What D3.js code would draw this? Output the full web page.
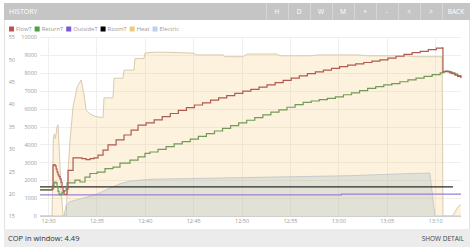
<!DOCTYPE html>
<html>
<head>
<meta charset="utf-8">
<script src="https://cdn.jsdelivr.net/npm/d3@7"></script>
<style>
  body { margin: 0; background: #fff; }
  svg { display: block; font-family: "Open Sans", "DejaVu Sans", sans-serif; }
</style>
</head>
<body>
<svg id="chart" width="474" height="249"></svg>
<script>
// History panel: flow/return/outside/room temps + heat/electric power

const buttons = ["H", "D", "W", "M", "+", "-", "<", ">", "BACK"];
const legendNames = ["FlowT", "ReturnT", "OutsideT", "RoomT", "Heat", "Electric"];
const legendColors = ["#c0504d", "#4fa043", "#7e57d6", "#000000", "#eccb7a", "#b9d3ee"];
const tempTicks = [15, 20, 25, 30, 35, 40, 45, 50, 55];
const powerTicks = [0, 1000, 2000, 3000, 4000, 5000, 6000, 7000, 8000, 9000, 10000];
const copInWindow = 4.49;

// [time, °C]
const flowT = [
  ["12:29:10", 20.9], ["12:30:25", 21.0], ["12:30:31", 26.4], ["12:30:37", 26.5], ["12:30:43", 26.2],
  ["12:30:50", 25.5], ["12:30:56", 24.8], ["12:31:02", 24.2], ["12:31:08", 23.8], ["12:31:14", 23.3],
  ["12:31:21", 22.5], ["12:31:27", 21.5], ["12:31:33", 20.6], ["12:31:39", 19.8], ["12:31:52", 19.9],
  ["12:31:58", 21.0], ["12:32:04", 25.2], ["12:32:35", 28.0], ["12:33:30", 27.8], ["12:33:56", 27.6],
  ["12:34:20", 27.8], ["12:34:45", 28.0], ["12:35:10", 28.6], ["12:35:41", 29.7], ["12:36:12", 30.9],
  ["12:37:02", 32.0], ["12:37:51", 33.1], ["12:38:35", 34.2], ["12:39:18", 35.3],
  ["12:40:08", 35.8], ["12:40:58", 36.5], ["12:41:48", 37.2], ["12:42:38", 37.9], ["12:43:28", 38.6],
  ["12:44:18", 39.2], ["12:45:08", 39.8], ["12:45:58", 40.3], ["12:46:48", 40.9], ["12:47:38", 41.4],
  ["12:48:28", 41.9], ["12:49:18", 42.4], ["12:50:08", 42.9], ["12:50:58", 43.3], ["12:51:48", 43.8],
  ["12:52:38", 44.3], ["12:53:28", 44.8], ["12:54:18", 45.3], ["12:55:08", 45.8], ["12:55:58", 46.3],
  ["12:56:48", 46.8], ["12:57:38", 47.2], ["12:58:28", 47.6], ["12:59:18", 48.0], ["13:00:08", 48.4],
  ["13:00:58", 48.7], ["13:01:48", 49.0], ["13:02:38", 49.3], ["13:03:28", 49.6], ["13:04:18", 49.9],
  ["13:05:08", 50.3], ["13:05:58", 50.7], ["13:06:48", 51.1], ["13:07:38", 51.5], ["13:08:28", 51.8],
  ["13:09:18", 52.2], ["13:10:08", 52.5], ["13:10:44", 52.6], ["13:10:49", 47.2], ["13:10:58", 47.3],
  ["13:11:07", 47.3], ["13:11:20", 47.2], ["13:11:32", 47.0], ["13:11:45", 46.8], ["13:12:03", 46.5],
  ["13:12:20", 46.2], ["13:12:40", 45.8]
];

const returnT = [
  ["12:29:10", 20.8], ["12:30:25", 21.0], ["12:30:31", 21.8], ["12:30:37", 22.4], ["12:30:43", 22.6],
  ["12:30:50", 22.4], ["12:30:56", 21.5], ["12:31:02", 20.5], ["12:31:08", 19.9], ["12:31:14", 19.7],
  ["12:31:21", 19.9], ["12:31:27", 20.2], ["12:31:33", 20.4], ["12:31:39", 20.6], ["12:31:52", 21.2],
  ["12:31:58", 22.4], ["12:32:47", 23.0], ["12:33:18", 22.6], ["12:33:49", 23.7], ["12:34:20", 24.5],
  ["12:35:04", 24.8], ["12:35:53", 25.6], ["12:36:43", 25.9], ["12:37:26", 26.8], ["12:38:28", 27.5],
  ["12:39:18", 28.2], ["12:40:01", 29.0],
  ["12:40:32", 29.3], ["12:41:22", 29.9], ["12:42:12", 30.5], ["12:43:02", 31.1], ["12:43:52", 31.6],
  ["12:44:42", 32.2], ["12:45:32", 32.8], ["12:46:22", 33.4], ["12:47:12", 34.0], ["12:48:02", 34.6],
  ["12:48:52", 35.2], ["12:49:42", 35.8], ["12:50:32", 36.4], ["12:51:22", 37.0], ["12:52:12", 37.6],
  ["12:53:02", 38.2], ["12:53:52", 38.7], ["12:54:42", 39.3], ["12:55:32", 39.9], ["12:56:22", 40.4],
  ["12:57:12", 40.7], ["12:58:02", 41.0], ["12:58:52", 41.3], ["12:59:42", 41.6], ["13:00:32", 42.1],
  ["13:01:22", 42.5], ["13:02:12", 43.0], ["13:03:02", 43.5], ["13:03:52", 43.9], ["13:04:42", 44.3],
  ["13:05:32", 44.6], ["13:06:22", 45.0], ["13:07:12", 45.4], ["13:08:02", 45.8], ["13:08:52", 46.2],
  ["13:09:42", 46.6], ["13:10:32", 47.0], ["13:10:49", 47.2], ["13:11:07", 47.4], ["13:11:20", 47.3],
  ["13:11:32", 47.2], ["13:11:45", 47.0], ["13:12:03", 46.7], ["13:12:20", 46.4], ["13:12:40", 46.0]
];

const outsideT = [["12:29:10", 19.7], ["13:00:10", 19.7], ["13:00:20", 19.9], ["13:12:41", 19.9]];
const roomT = [["12:29:10", 21.5], ["13:11:51", 21.5]];

// [time, W]
const heatW = [
  ["12:29:10", 0], ["12:30:25", 0], ["12:30:33", 4400], ["12:30:40", 4600], ["12:30:46", 4300],
  ["12:30:56", 5000], ["12:31:02", 5100], ["12:31:10", 3600], ["12:31:21", 1500], ["12:31:33", 0],
  ["12:31:52", 0], ["12:32:04", 2500], ["12:32:16", 4200], ["12:32:35", 6100], ["12:33:00", 7200],
  ["12:33:25", 7600], ["12:33:43", 6800], ["12:33:56", 5900], ["12:34:20", 5700], ["12:34:58", 5550],
  ["12:35:41", 5500], ["12:35:47", 6600], ["12:36:43", 6600], ["12:36:49", 7700], ["12:37:45", 7700],
  ["12:37:51", 8150], ["12:38:53", 8150], ["12:38:59", 8800], ["12:39:55", 8800], ["12:40:01", 9100],
  ["12:41:03", 9150], ["12:41:53", 9150], ["12:44:59", 9100], ["12:45:23", 9000], ["12:48:05", 9000],
  ["12:48:17", 8900], ["12:50:09", 8900], ["12:50:34", 9050], ["12:53:40", 9050], ["12:53:58", 8950],
  ["12:57:00", 8950], ["12:58:00", 9000], ["13:02:00", 9000], ["13:03:00", 8950], ["13:07:00", 8950],
  ["13:08:00", 8900], ["13:10:44", 8900], ["13:10:49", 0], ["13:11:50", 0], ["13:12:21", 500],
  ["13:12:41", 650]
];

const elecW = [
  ["12:29:10", 0], ["12:31:39", 0], ["12:31:52", 600], ["12:32:16", 800], ["12:33:18", 950],
  ["12:34:20", 1100], ["12:35:22", 1300], ["12:36:24", 1550], ["12:37:26", 1800], ["12:38:28", 1950],
  ["12:40:32", 2050], ["12:45:42", 2100], ["12:50:52", 2150], ["12:56:02", 2200], ["13:01:12", 2250],
  ["13:06:22", 2350], ["13:09:28", 2400], ["13:09:59", 0], ["13:12:41", 0]
];

const svg = d3.select("#chart");
const parse = d3.timeParse("%H:%M:%S");
const conv = (arr) => arr.map(([t, v]) => ({ t: parse(t), v }));

const plot = { left: 40, right: 461, top: 37, bottom: 216 };

const x = d3.scaleTime()
  .domain([parse("12:29:10"), parse("13:12:41")])
  .range([plot.left, plot.right]);
const yT = d3.scaleLinear().domain([15, 55]).range([plot.bottom, plot.top]);
const yP = d3.scaleLinear().domain([0, 10000]).range([plot.bottom, plot.top]);

// ----- panel frame -----
svg.append("rect")
  .attr("x", 4.5).attr("y", 3.5).attr("width", 465).attr("height", 243)
  .attr("fill", "#fff").attr("stroke", "#e2e2e2");

// header bar
svg.append("rect")
  .attr("x", 4).attr("y", 3).attr("width", 466).attr("height", 17)
  .attr("fill", "#c5c5c5");
svg.append("text")
  .attr("x", 9).attr("y", 14).attr("fill", "#fff")
  .attr("font-size", 7).text("HISTORY");

const btnW = buttons.map((b) => (b === "BACK" ? 28 : 22));
let bx = 470 - d3.sum(btnW);
buttons.forEach((b, i) => {
  svg.append("line")
    .attr("x1", bx + 0.5).attr("x2", bx + 0.5).attr("y1", 3).attr("y2", 20)
    .attr("stroke", "#d6d6d6");
  svg.append("text")
    .attr("x", bx + btnW[i] / 2).attr("y", 14)
    .attr("text-anchor", "middle").attr("fill", "#fff")
    .attr("font-size", 6.5).text(b);
  bx += btnW[i];
});

// footer bar
svg.append("rect")
  .attr("x", 4).attr("y", 229).attr("width", 466).attr("height", 18)
  .attr("fill", "#ececec");
svg.append("text")
  .attr("x", 8).attr("y", 240.5).attr("fill", "#333")
  .attr("font-size", 7.5).text(`COP in window: ${copInWindow}`);
svg.append("text")
  .attr("x", 464).attr("y", 240.5).attr("text-anchor", "end").attr("fill", "#444")
  .attr("font-size", 6.5).text("SHOW DETAIL");

// ----- legend -----
const legend = svg.append("g").attr("transform", "translate(9,29)");
let lx = 0;
legendNames.forEach((name, i) => {
  legend.append("rect")
    .attr("x", lx).attr("y", -2.5).attr("width", 5).attr("height", 5)
    .attr("fill", legendColors[i]);
  const t = legend.append("text")
    .attr("x", lx + 7).attr("y", 2.2).attr("fill", "#999")
    .attr("font-size", 5.8).text(name);
  lx += 7 + t.node().getComputedTextLength() + 3;
});

// ----- grid -----
const grid = svg.append("g");
grid.selectAll(".hgrid").data(powerTicks).join("line")
  .attr("x1", plot.left).attr("x2", plot.right)
  .attr("y1", (d) => Math.round(yP(d)) + 0.5).attr("y2", (d) => Math.round(yP(d)) + 0.5)
  .attr("stroke", "#efefef");
const timeTicks = x.ticks(d3.timeMinute.every(5));
grid.selectAll(".vgrid").data(timeTicks).join("line")
  .attr("x1", (d) => Math.round(x(d)) + 0.5).attr("x2", (d) => Math.round(x(d)) + 0.5)
  .attr("y1", plot.top).attr("y2", plot.bottom)
  .attr("stroke", "#efefef");

// ----- areas -----
const areaP = d3.area()
  .x((d) => x(d.t)).y0(yP(0)).y1((d) => yP(d.v));
const lineP = d3.line().x((d) => x(d.t)).y((d) => yP(d.v));

svg.append("path").datum(conv(heatW))
  .attr("d", areaP).attr("fill", "rgba(240,196,100,0.22)");
svg.append("path").datum(conv(heatW))
  .attr("d", lineP).attr("fill", "none").attr("stroke", "#d8ccb0").attr("stroke-width", 1);

svg.append("path").datum(conv(elecW))
  .attr("d", areaP).attr("fill", "rgba(170,190,200,0.32)");
svg.append("path").datum(conv(elecW))
  .attr("d", lineP).attr("fill", "none").attr("stroke", "#c5cccc").attr("stroke-width", 1);

// baseline
svg.append("line")
  .attr("x1", plot.left).attr("x2", plot.right)
  .attr("y1", plot.bottom + 0.5).attr("y2", plot.bottom + 0.5)
  .attr("stroke", "#cfcfcf");

// ----- temperature lines -----
const lineStep = d3.line().curve(d3.curveStepAfter)
  .x((d) => x(d.t)).y((d) => yT(d.v));
const lineT = d3.line().x((d) => x(d.t)).y((d) => yT(d.v));

svg.append("path").datum(conv(outsideT)).attr("d", lineStep)
  .attr("fill", "none").attr("stroke", "#9a80d8").attr("stroke-width", 1.3);
svg.append("path").datum(conv(roomT)).attr("d", lineT)
  .attr("fill", "none").attr("stroke", "#2a2a2a").attr("stroke-width", 1.3);
svg.append("path").datum(conv(returnT)).attr("d", lineStep)
  .attr("fill", "none").attr("stroke", "#74995a").attr("stroke-width", 1.2);
svg.append("path").datum(conv(flowT)).attr("d", lineStep)
  .attr("fill", "none").attr("stroke", "#b05a52").attr("stroke-width", 1.2);

// ----- axes -----
const axT = svg.append("g").attr("transform", "translate(15,0)")
  .call(d3.axisLeft(yT).tickValues(tempTicks).tickSize(0).tickPadding(0));
const axP = svg.append("g").attr("transform", "translate(37,0)")
  .call(d3.axisLeft(yP).tickValues(powerTicks).tickFormat(d3.format("d"))
    .tickSize(0).tickPadding(0));
const axX = svg.append("g").attr("transform", `translate(0,${plot.bottom})`)
  .call(d3.axisBottom(x).ticks(d3.timeMinute.every(5)).tickFormat(d3.timeFormat("%H:%M"))
    .tickSize(0).tickPadding(3));

[axT, axP, axX].forEach((g) => {
  g.select(".domain").remove();
  g.selectAll("text")
    .attr("fill", "#999")
    .attr("font-size", 5.5)
    .attr("font-family", "'Open Sans', sans-serif");
});
</script>
</body>
</html>
